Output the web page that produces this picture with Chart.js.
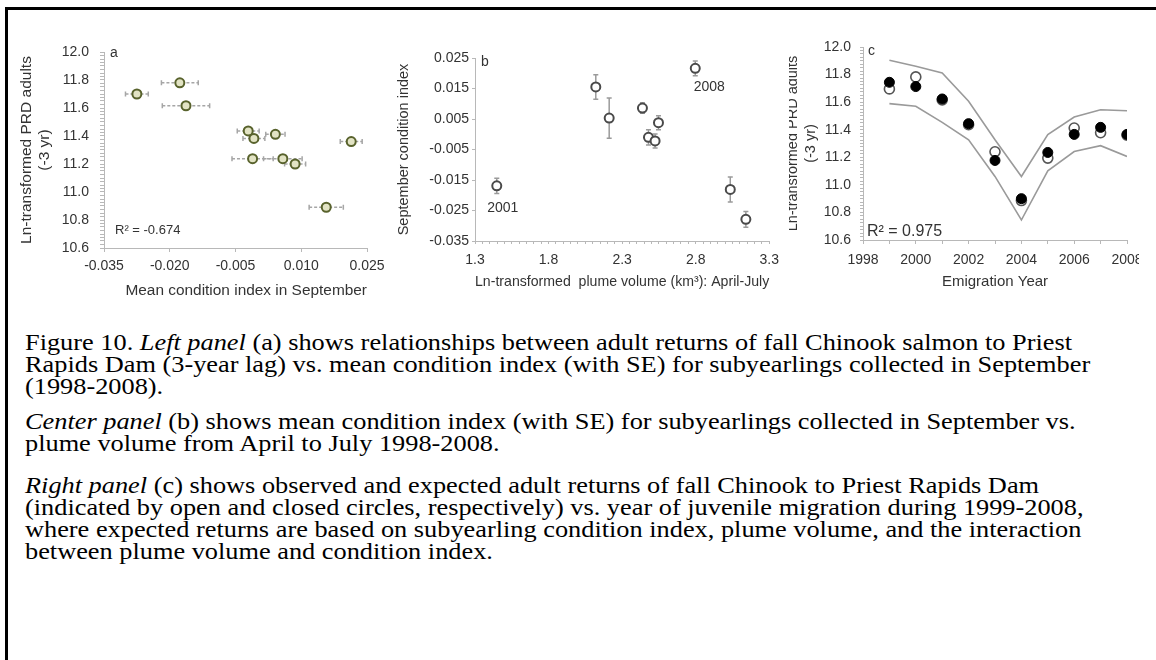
<!DOCTYPE html>
<html>
<head>
<meta charset="utf-8">
<script src="https://cdn.jsdelivr.net/npm/chart.js@4.4.0/dist/chart.umd.min.js"></script>
<style>
  html, body { margin: 0; padding: 0; background: #fff; }
  body { width: 1156px; height: 660px; position: relative; overflow: hidden; }
  .rule-top { position: absolute; left: 5px; top: 7px; width: 1151px; height: 3px; background: #000; }
  .rule-left { position: absolute; left: 5px; top: 7px; width: 3px; height: 653px; background: #000; }
  canvas { position: absolute; }
  #chartA { left: 0; top: 0; }
  #chartB { left: 392px; top: 0; }
  #chartC { left: 780px; top: 0; clip-path: inset(0 17px 0 9px); }
  .caption {
    position: absolute; left: 25px; top: 331px;
    font-family: "Liberation Serif", "Times New Roman", serif;
    font-size: 24px; line-height: 22px; color: #000;
    white-space: nowrap; transform-origin: 0 0;
  }
  .caption p { margin: 0 0 13px 0; }
  .caption p.last { margin-top: 20px; }
</style>
</head>
<body>
<div class="rule-top"></div>
<div class="rule-left"></div>
<canvas id="chartA" width="392" height="310"></canvas>
<canvas id="chartB" width="395" height="300"></canvas>
<canvas id="chartC" width="376" height="300"></canvas>

<div class="caption" id="caption">
  <p><span id="firstLine">Figure 10. <i>Left panel</i> (a) shows relationships between adult returns of fall Chinook salmon to Priest</span><br>
  Rapids Dam (3-year lag) vs. mean condition index (with SE) for subyearlings collected in September<br>
  (1998-2008).</p>
  <p><i>Center panel</i> (b) shows mean condition index (with SE) for subyearlings collected in September vs.<br>
  plume volume from April to July 1998-2008.</p>
  <p class="last"><i>Right panel</i> (c) shows observed and expected adult returns of fall Chinook to Priest Rapids Dam<br>
  (indicated by open and closed circles, respectively) vs. year of juvenile migration during 1999-2008,<br>
  where expected returns are based on subyearling condition index, plume volume, and the interaction<br>
  between plume volume and condition index.</p>
</div>

<script>
// ---- panel a: mean September condition index (with SE) vs ln adult returns (3 yr lag)
const condSept   = [-0.0275, -0.0177, -0.0163, -0.0021, -0.0008, 0.0041, 0.0214, -0.0011, 0.0058, 0.0086, 0.0157];
const condSeptSE = [0.0026, 0.0042, 0.0054, 0.0025, 0.0025, 0.0022, 0.0025, 0.0047, 0.0044, 0.0024, 0.0039];
const lnAdults   = [11.70, 11.78, 11.616, 11.436, 11.383, 11.412, 11.36, 11.238, 11.238, 11.20, 10.891];

// ---- panel b: September condition index vs ln plume volume (April-July)
const plumeVol   = [1.448, 2.121, 2.212, 2.438, 2.479, 2.524, 2.547, 2.797, 3.035, 3.141];
const condIdx    = [-0.0169, 0.0155, 0.0053, 0.0086, -0.0010, -0.0022, 0.0038, 0.0216, -0.0181, -0.0279];
const condIdxSE  = [0.0025, 0.0040, 0.0066, 0.0017, 0.0025, 0.0023, 0.0023, 0.0024, 0.0041, 0.0026];
const plumeYears = ['2001', '', '', '', '', '', '', '2008', '', ''];

// ---- panel c: observed / expected returns by emigration year
const emigYears  = [1999, 2000, 2001, 2002, 2003, 2004, 2005, 2006, 2007, 2008];
const observed   = [11.696, 11.783, 11.616, 11.436, 11.240, 10.886, 11.194, 11.412, 11.378, 11.360];
const expected   = [11.744, 11.713, 11.623, 11.444, 11.177, 10.900, 11.235, 11.366, 11.417, 11.366];
const upperBound = [11.904, 11.861, 11.812, 11.606, 11.327, 11.061, 11.364, 11.492, 11.545, 11.538];
const lowerBound = [11.589, 11.570, 11.453, 11.327, 11.061, 10.745, 11.102, 11.242, 11.284, 11.206];

const FONT = '"Liberation Sans", Arial, sans-serif';
const INK = '#333';
const AXIS = '#b8b8b8';

Chart.defaults.font.family = FONT;
Chart.defaults.color = INK;

function pts(xs, ys) { return xs.map((x, i) => ({ x: x, y: ys[i] })); }

function onStep(v, start, step) {
  const k = (v - start) / step;
  return Math.abs(k - Math.round(k)) < 1e-6;
}

// whiskers drawn under the markers, positioned through the chart's scales
function errorBars(cfg) {
  return {
    id: 'errorBars',
    beforeDatasetsDraw(chart) {
      const { ctx } = chart;
      const xs = chart.scales.x, ys = chart.scales.y;
      ctx.save();
      ctx.strokeStyle = cfg.color;
      ctx.lineWidth = cfg.width;
      cfg.xs.forEach((xv, i) => {
        const yv = cfg.ys[i], e = cfg.err[i];
        ctx.setLineDash(cfg.dash || []);
        ctx.beginPath();
        if (cfg.dir === 'x') {
          const py = ys.getPixelForValue(yv);
          const a = xs.getPixelForValue(xv - e), b = xs.getPixelForValue(xv + e);
          ctx.moveTo(a, py); ctx.lineTo(b, py);
          ctx.stroke();
          ctx.setLineDash([]);
          ctx.beginPath();
          ctx.moveTo(a, py - cfg.cap); ctx.lineTo(a, py + cfg.cap);
          ctx.moveTo(b, py - cfg.cap); ctx.lineTo(b, py + cfg.cap);
        } else {
          const px = xs.getPixelForValue(xv);
          const a = ys.getPixelForValue(yv - e), b = ys.getPixelForValue(yv + e);
          ctx.moveTo(px, a); ctx.lineTo(px, b);
          ctx.stroke();
          ctx.setLineDash([]);
          ctx.beginPath();
          ctx.moveTo(px - cfg.cap, a); ctx.lineTo(px + cfg.cap, a);
          ctx.moveTo(px - cfg.cap, b); ctx.lineTo(px + cfg.cap, b);
        }
        ctx.stroke();
      });
      ctx.restore();
    }
  };
}

// free text: 'area' items sit relative to the chart area, 'data' items next to a point
function notes(items) {
  return {
    id: 'notes',
    afterDraw(chart) {
      const { ctx, chartArea } = chart;
      ctx.save();
      items.forEach(t => {
        let x, y;
        if (t.at === 'data') {
          x = chart.scales.x.getPixelForValue(t.x) + t.dx;
          y = chart.scales.y.getPixelForValue(t.y) + t.dy;
        } else {
          x = chartArea.left + t.dx;
          y = chartArea.top + t.dy;
        }
        ctx.font = (t.size || 14) + 'px ' + FONT;
        ctx.fillStyle = t.color || INK;
        ctx.textAlign = t.align || 'left';
        ctx.textBaseline = 'middle';
        ctx.fillText(t.text, x, y);
      });
      ctx.restore();
    }
  };
}

const common = {
  responsive: false,
  animation: false,
  events: [],
  plugins: { legend: { display: false }, tooltip: { enabled: false } }
};

// ---------------- panel a
new Chart(document.getElementById('chartA'), {
  type: 'scatter',
  data: {
    datasets: [{
      data: pts(condSept, lnAdults),
      pointRadius: 4.5,
      borderWidth: 2,
      borderColor: '#58622c',
      backgroundColor: '#e2e3c4'
    }]
  },
  options: {
    ...common,
    layout: { padding: { left: 0, top: 52, right: 25, bottom: 0 } },
    scales: {
      x: {
        min: -0.035, max: 0.025,
        ticks: { stepSize: 0.015, autoSkip: false, padding: 6, font: { size: 14 },
                 callback: v => v.toFixed(3) },
        grid: { drawOnChartArea: false, tickLength: 4, color: AXIS },
        border: { color: AXIS },
        title: { display: true, text: '     Mean condition index in September',
                 font: { size: 15.5 }, padding: { top: 0, bottom: 10 } },
        afterFit: s => { s.height = 62; }
      },
      y: {
        min: 10.6, max: 12.0,
        ticks: { stepSize: 0.025, autoSkip: false, padding: 11, font: { size: 14 },
                 callback: v => onStep(v, 10.6, 0.2) ? v.toFixed(1) : '' },
        grid: { drawOnChartArea: false, tickLength: 4, color: AXIS },
        border: { color: AXIS },
        title: { display: true, text: ['Ln-transformed PRD adults', '(-3 yr)'],
                 font: { size: 15.5, lineHeight: '18px' }, padding: { top: 18, bottom: 0 } },
        afterFit: s => { s.width = 104; }
      }
    }
  },
  plugins: [
    errorBars({ xs: condSept, ys: lnAdults, err: condSeptSE, dir: 'x', cap: 2.5,
                color: '#a6a6a6', width: 1.5, dash: [3, 2] }),
    notes([
      { at: 'area', text: 'a', dx: 6, dy: 1, size: 14 },
      { at: 'area', text: 'R\u00b2 = -0.674', dx: 11, dy: 178, size: 13 }
    ])
  ]
});

// ---------------- panel b
new Chart(document.getElementById('chartB'), {
  type: 'scatter',
  data: {
    datasets: [{
      data: pts(plumeVol, condIdx),
      pointRadius: 4.5,
      borderWidth: 2,
      borderColor: '#4a4a4a',
      backgroundColor: '#ffffff'
    }]
  },
  options: {
    ...common,
    layout: { padding: { left: 0, top: 58, right: 17, bottom: 0 } },
    scales: {
      x: {
        min: 1.3, max: 3.3,
        ticks: { stepSize: 0.05, autoSkip: false, maxRotation: 0, padding: 8, font: { size: 14 },
                 callback: v => onStep(v, 1.3, 0.5) ? v.toFixed(1) : '' },
        grid: { drawOnChartArea: false, tickLength: 3, color: AXIS },
        border: { color: AXIS },
        title: { display: true, text: 'Ln-transformed  plume volume (km\u00b3): April-July',
                 font: { size: 14.5 }, padding: { top: 0, bottom: 9 } },
        afterFit: s => { s.height = 59; }
      },
      y: {
        min: -0.035, max: 0.025,
        ticks: { stepSize: 0.01, autoSkip: false, padding: 3, font: { size: 14 },
                 callback: v => v.toFixed(3) },
        grid: { drawOnChartArea: false, tickLength: 3, color: AXIS },
        border: { color: AXIS },
        title: { display: true, text: 'September condition index',
                 font: { size: 14.5 }, padding: { top: 3, bottom: 0 } },
        afterFit: s => { s.width = 83; }
      }
    }
  },
  plugins: [
    errorBars({ xs: plumeVol, ys: condIdx, err: condIdxSE, dir: 'y', cap: 2.5,
                color: '#9a9a9a', width: 1.5 }),
    notes([
      { at: 'area', text: 'b', dx: 6, dy: 4, size: 14 },
      { at: 'data', text: plumeYears[0], x: plumeVol[0], y: condIdx[0], dx: 6, dy: 22, size: 14, align: 'center' },
      { at: 'data', text: plumeYears[7], x: plumeVol[7], y: condIdx[7], dx: 14, dy: 19, size: 14, align: 'center' }
    ])
  ]
});

// ---------------- panel c
new Chart(document.getElementById('chartC'), {
  type: 'scatter',
  data: {
    datasets: [
      { data: pts(emigYears, expected), pointRadius: 5, borderWidth: 1,
        borderColor: '#000', backgroundColor: '#000' },
      { data: pts(emigYears, observed), pointRadius: 5, borderWidth: 1.6,
        borderColor: '#555', backgroundColor: '#fff' },
      { data: pts(emigYears, upperBound), showLine: true, pointRadius: 0,
        borderColor: '#9a9a9a', borderWidth: 1.6 },
      { data: pts(emigYears, lowerBound), showLine: true, pointRadius: 0,
        borderColor: '#9a9a9a', borderWidth: 1.6 }
    ]
  },
  options: {
    ...common,
    layout: { padding: { left: 0, top: 47, right: 29, bottom: 0 } },
    scales: {
      x: {
        min: 1998, max: 2008,
        ticks: { stepSize: 1, autoSkip: false, maxRotation: 0, padding: 8, font: { size: 14 },
                 callback: v => (v % 2 === 0 ? String(v) : '') },
        grid: { drawOnChartArea: false, tickLength: 4, color: AXIS },
        border: { color: AXIS },
        title: { display: true, text: 'Emigration Year',
                 font: { size: 15 }, padding: { top: 0, bottom: 9 } },
        afterFit: s => { s.height = 60; }
      },
      y: {
        min: 10.6, max: 12.0,
        ticks: { stepSize: 0.025, autoSkip: false, padding: 9, font: { size: 14 },
                 callback: v => onStep(v, 10.6, 0.2) ? v.toFixed(1) : '' },
        grid: { drawOnChartArea: false, tickLength: 3, color: AXIS },
        border: { color: AXIS },
        title: { display: true, text: ['Ln-transformed PRD adults', '(-3 yr)'],
                 font: { size: 14.5, lineHeight: '18px' }, padding: { top: 4, bottom: 0 } },
        afterFit: s => { s.width = 83; }
      }
    }
  },
  plugins: [
    notes([
      { at: 'area', text: 'c', dx: 5, dy: 4, size: 14 },
      { at: 'area', text: 'R\u00b2 = 0.975', dx: 4, dy: 185, size: 16 }
    ])
  ]
});

// stretch the caption so its first line spans the same width as in the figure
(function () {
  const first = document.getElementById('firstLine');
  const w = first.getBoundingClientRect().width;
  document.getElementById('caption').style.transform = 'scaleX(' + (1047 / w) + ')';
})();
</script>
</body>
</html>
